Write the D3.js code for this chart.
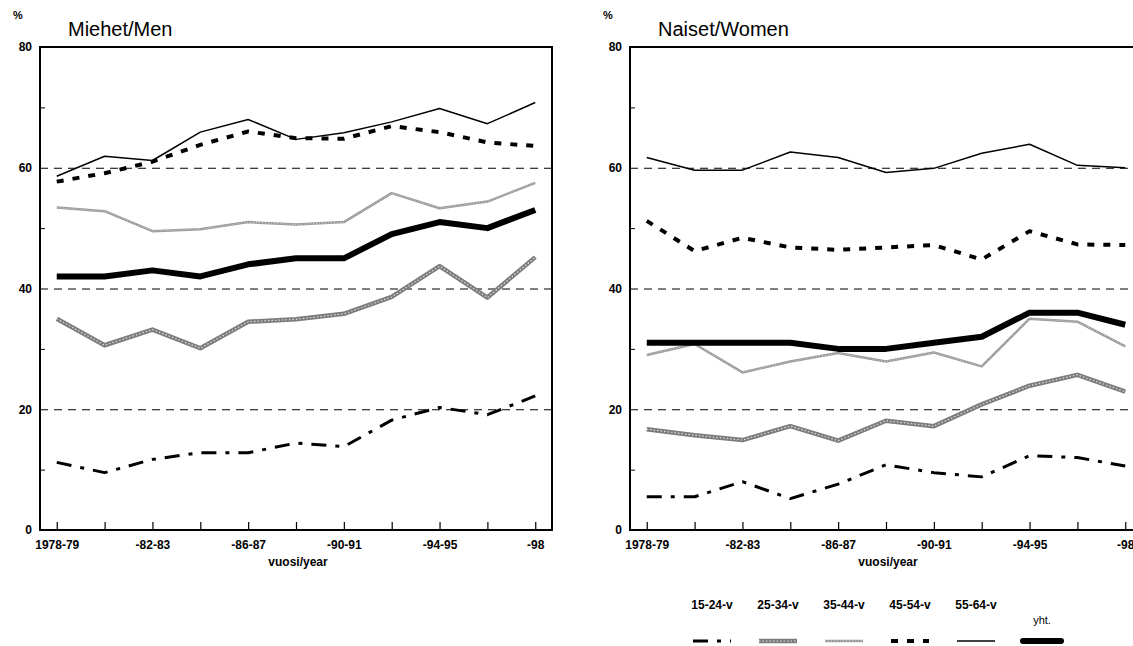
<!DOCTYPE html>
<html>
<head>
<meta charset="utf-8">
<script src="https://cdn.jsdelivr.net/npm/d3@7"></script>
<style>
  body { margin: 0; background: #fff; }
  svg { display: block; font-family: "Liberation Sans", Arial, sans-serif; }
  .tick text { font-size: 12px; font-weight: bold; fill: #000; }
</style>
</head>
<body>
<svg id="chart" width="1133" height="646"></svg>
<script>
// periods on the x axis (every other one gets a label)
const periods = ["1978-79", "1980-81", "1982-83", "1984-85", "1986-87", "1988-89",
                 "1990-91", "1992-93", "1994-95", "1996-97", "1998"];
const tickLabels = ["1978-79", "", "-82-83", "", "-86-87", "", "-90-91", "", "-94-95", "", "-98"];
const groups = ["15-24-v", "25-34-v", "35-44-v", "45-54-v", "55-64-v", "yht."];

// Miehet / Men, % by age group
const men1524 = [11.2, 9.5, 11.7, 12.8, 12.8, 14.4, 13.8, 18.2, 20.3, 19.1, 22.2];
const men2534 = [35.0, 30.6, 33.2, 30.1, 34.5, 34.9, 35.8, 38.6, 43.7, 38.5, 45.2];
const men3544 = [53.4, 52.8, 49.5, 49.8, 51.0, 50.6, 51.0, 55.8, 53.3, 54.4, 57.5];
const men4554 = [57.7, 59.1, 61.0, 63.8, 66.0, 64.9, 64.8, 66.9, 65.9, 64.2, 63.6];
const men5564 = [58.6, 61.9, 61.2, 65.9, 68.0, 64.7, 65.8, 67.6, 69.8, 67.3, 70.8];
const menAll  = [42, 42, 43, 42, 44, 45, 45, 49, 51, 50, 53];

// Naiset / Women
const women1524 = [5.5, 5.5, 8.0, 5.2, 7.6, 10.8, 9.5, 8.8, 12.3, 12.0, 10.6];
const women2534 = [16.7, 15.7, 14.9, 17.2, 14.8, 18.1, 17.2, 20.8, 23.9, 25.7, 22.9];
const women3544 = [29.0, 30.8, 26.1, 27.9, 29.3, 27.9, 29.4, 27.1, 35.0, 34.5, 30.4];
const women4554 = [51.2, 46.2, 48.4, 46.8, 46.4, 46.8, 47.2, 44.8, 49.5, 47.3, 47.2];
const women5564 = [61.7, 59.6, 59.6, 62.6, 61.7, 59.2, 59.9, 62.4, 63.9, 60.4, 60.0];
const womenAll  = [31, 31, 31, 31, 30, 30, 31, 32, 36, 36, 34];

const yTicks = [0, 20, 40, 60, 80];
const yMinor = [10, 30, 50, 70];
const yGrid = [20, 40, 60];

// line look per group: base stroke plus optional texture on top
const styles = {
  "15-24-v": [{ stroke: "#000", width: 3, dash: "15,9,4,9" }],
  "25-34-v": [{ stroke: "#7c7c7c", width: 4.5 }, { stroke: "#dcdcdc", width: 1.2, dash: "1.5,2" }],
  "35-44-v": [{ stroke: "#9a9a9a", width: 2.5 }, { stroke: "#e2e2e2", width: 0.8, dash: "1,2" }],
  "45-54-v": [{ stroke: "#000", width: 4, dash: "7,9" }],
  "55-64-v": [{ stroke: "#000", width: 1.5 }],
  "yht.":    [{ stroke: "#000", width: 6 }]
};

const W = 512, H = 483;
const svg = d3.select("#chart");

const x = d3.scalePoint().domain(periods).range([0, W]).padding(0.35);
const y = d3.scaleLinear().domain([0, 80]).range([H, 0]);

const line = d3.line()
  .x((d, i) => x(periods[i]))
  .y(d => y(d));

function panel(left, title, series) {
  const g = svg.append("g").attr("transform", `translate(${left},47)`);

  // dashed reference lines
  g.append("g")
    .call(d3.axisLeft(y).tickValues(yGrid).tickSize(-W).tickFormat(""))
    .call(a => a.select(".domain").remove())
    .selectAll("line")
    .attr("stroke", "#000").attr("stroke-width", 1).attr("stroke-dasharray", "8,6");

  // series lines
  groups.forEach((key, i) => {
    styles[key].forEach(s => {
      g.append("path")
        .datum(series[i])
        .attr("fill", "none")
        .attr("stroke", s.stroke)
        .attr("stroke-width", s.width)
        .attr("stroke-dasharray", s.dash || null)
        .attr("stroke-linejoin", "round")
        .attr("d", line);
    });
  });

  // x axis, ticks pointing inwards
  g.append("g")
    .attr("transform", `translate(0,${H})`)
    .call(d3.axisBottom(x).tickSize(-8).tickPadding(10).tickFormat((d, i) => tickLabels[i]))
    .call(a => a.select(".domain").remove())
    .selectAll("line").attr("stroke", "#000").attr("stroke-width", 1.2);

  // y axis labels and minor ticks
  g.append("g")
    .call(d3.axisLeft(y).tickValues(yTicks).tickSize(0).tickPadding(8))
    .call(a => a.select(".domain").remove());
  g.append("g")
    .call(d3.axisLeft(y).tickValues(yMinor).tickSize(-5).tickFormat(""))
    .call(a => a.select(".domain").remove())
    .selectAll("line").attr("stroke", "#000");

  // frame
  g.append("rect")
    .attr("width", W).attr("height", H)
    .attr("fill", "none").attr("stroke", "#000").attr("stroke-width", 2);

  g.append("text").attr("x", -27).attr("y", -28)
    .attr("font-size", 11).attr("font-weight", "bold").text("%");
  g.append("text").attr("x", 28).attr("y", -11)
    .attr("font-size", 20).text(title);
  g.append("text").attr("x", W / 2 + 2).attr("y", H + 36)
    .attr("text-anchor", "middle").attr("font-size", 12).attr("font-weight", "bold")
    .text("vuosi/year");
}

panel(40, "Miehet/Men", [men1524, men2534, men3544, men4554, men5564, menAll]);
panel(630, "Naiset/Women", [women1524, women2534, women3544, women4554, women5564, womenAll]);

// legend under the women panel
const lx = d3.scalePoint().domain(groups).range([712, 1042]);
const legend = svg.append("g");
groups.forEach(key => {
  const cx = lx(key);
  const isTotal = key === "yht.";
  legend.append("text")
    .attr("x", cx).attr("y", isTotal ? 624 : 609)
    .attr("text-anchor", "middle")
    .attr("font-size", isTotal ? 11 : 12).attr("font-weight", isTotal ? "normal" : "bold")
    .text(key);
  styles[key].forEach(s => {
    legend.append("line")
      .attr("x1", cx - 19).attr("x2", cx + 19)
      .attr("y1", 641).attr("y2", 641)
      .attr("stroke", s.stroke)
      .attr("stroke-width", s.width)
      .attr("stroke-dasharray", s.dash || null)
      .attr("stroke-linecap", isTotal ? "round" : "butt");
  });
});
</script>
</body>
</html>
